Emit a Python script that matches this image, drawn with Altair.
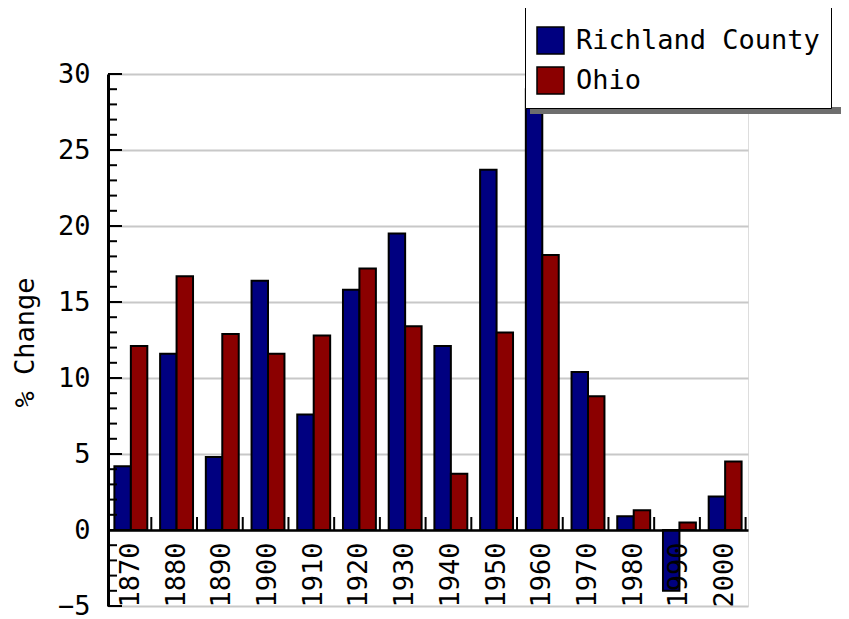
import altair as alt
import pandas as pd

years = ["1870", "1880", "1890", "1900", "1910", "1920", "1930",
         "1940", "1950", "1960", "1970", "1980", "1990", "2000"]
richland = [4.2, 11.6, 4.8, 16.4, 7.6, 15.8, 19.5, 12.1, 23.7, 29.0, 10.4, 0.9, -4.0, 2.2]
ohio = [12.1, 16.7, 12.9, 11.6, 12.8, 17.2, 13.4, 3.7, 13.0, 18.1, 8.8, 1.3, 0.5, 4.5]
series = ["Richland County", "Ohio"]
colors = ["#000080", "#8b0000"]
major_ticks = list(range(-5, 31, 5))
minor_ticks = [v for v in range(-5, 31) if v % 5 != 0]

FONT = "DejaVu Sans Mono"
FS = 27
NBSP = "\u00a0" * 5

rows = []
for i, yr in enumerate(years):
    rows.append({"year": yr, "series": series[0], "value": richland[i]})
    rows.append({"year": yr, "series": series[1], "value": ohio[i]})
df = pd.DataFrame(rows)

xscale = alt.Scale(domain=years, paddingInner=0.28, paddingOuter=0.14)
yscale = alt.Scale(domain=[-5, 30], nice=False, zero=False)

bars = alt.Chart(df).mark_bar(stroke="black", strokeWidth=2).encode(
    x=alt.X("year:N", scale=xscale, sort=years,
            axis=alt.Axis(title=None, orient="bottom", offset=-76,
                          domainColor="black", domainWidth=2.5,
                          ticks=False, tickSize=0, labelAngle=270,
                          labelPadding=12, labelFont=FONT, labelFontSize=FS,
                          labelColor="black", grid=False, zindex=1)),
    xOffset=alt.XOffset("series:N", sort=series),
    y=alt.Y("value:Q", scale=yscale,
            axis=alt.Axis(title="% Change", values=major_ticks,
                          domainColor="black", domainWidth=3,
                          ticks=False, tickSize=0, labelPadding=18,
                          labelFont=FONT, labelFontSize=FS, labelColor="black",
                          titleFont=FONT, titleFontSize=FS, titleFontWeight="normal",
                          titleColor="black", titleAngle=270,
                          titleX=-83, titleY=268, titleAlign="center",
                          titleBaseline="middle",
                          grid=True, gridColor="#c8c8c8", gridWidth=2)),
    color=alt.Color("series:N", sort=series,
                    scale=alt.Scale(domain=series, range=colors),
                    legend=alt.Legend(title=" ", titleFontSize=6, titlePadding=2,
                                      orient="none", legendX=417, legendY=-67,
                                      fillColor="white", strokeColor="black",
                                      padding=11, symbolType="square",
                                      symbolSize=729, symbolStrokeColor="black",
                                      symbolStrokeWidth=1.5, labelFont=FONT,
                                      labelFontSize=FS, labelColor="black",
                                      labelOffset=11, rowPadding=7,
                                      labelExpr="datum.label + '" + NBSP + "'",
                                      labelLimit=1000)),
)

major_df = pd.DataFrame({"v": major_ticks})
minor_df = pd.DataFrame({"v": minor_ticks})

major = alt.Chart(major_df).mark_rule(color="black", strokeWidth=2).encode(
    y=alt.Y("v:Q", scale=yscale), x=alt.value(0), x2=alt.value(14))
minor = alt.Chart(minor_df).mark_rule(color="black", strokeWidth=2).encode(
    y=alt.Y("v:Q", scale=yscale), x=alt.value(0), x2=alt.value(9))

year_df = pd.DataFrame({"year": years})
xticks = alt.Chart(year_df).mark_tick(orient="vertical", size=13, thickness=2,
                                      color="black", opacity=1,
                                      yOffset=-6.5, xOffset=4).encode(
    x=alt.X("year:N", scale=xscale, sort=years, bandPosition=1),
    y=alt.datum(0),
)

shadow = alt.Chart(alt.Data(values=[{}])).mark_rect(color="#6e6e6e").encode(
    x=alt.value(422), x2=alt.value(790), y=alt.value(33), y2=alt.value(40))

chart = alt.layer(bars, major, minor, xticks, shadow).properties(
    width=640, height=532,
    autosize=alt.AutoSizeParams(type="none"),
    padding={"left": 100, "top": 66, "right": 93, "bottom": 13},
).configure_view(stroke=None).configure(background="white")

chart.save("out.html", embed_options={"renderer": "svg", "actions": False})
